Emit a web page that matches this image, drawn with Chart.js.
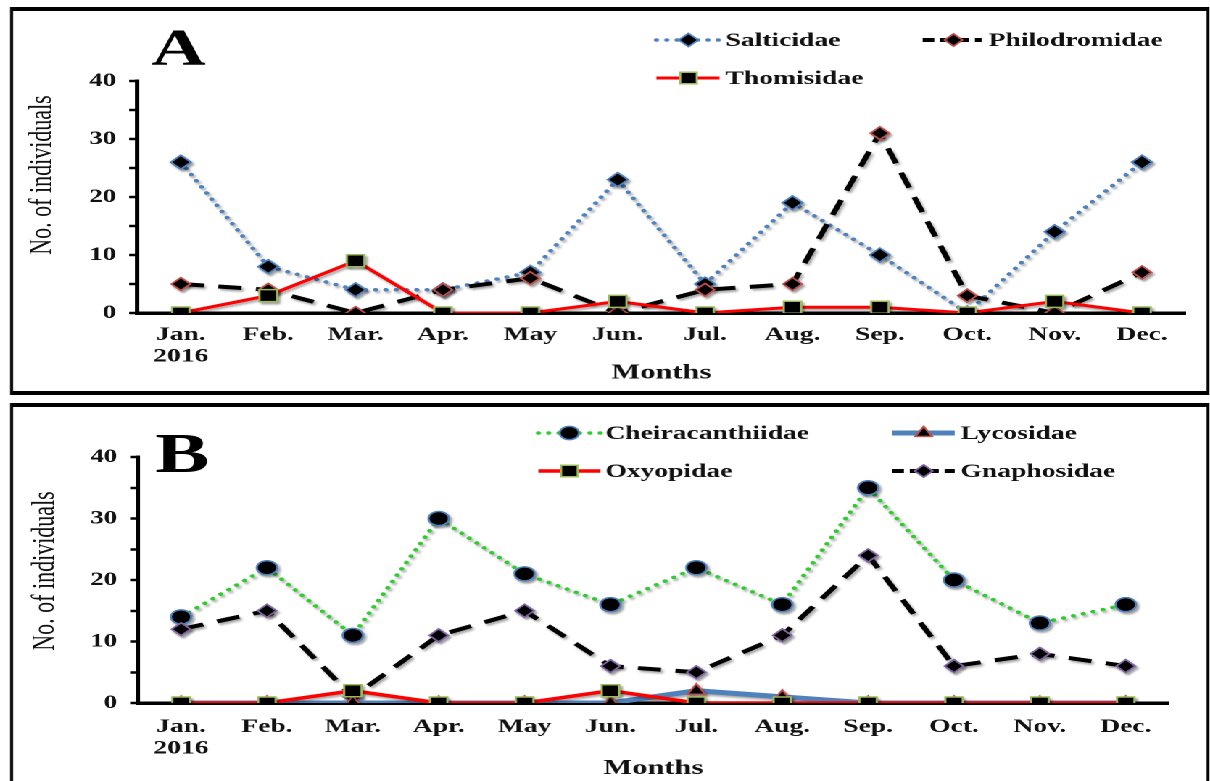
<!DOCTYPE html>
<html>
<head>
<meta charset="utf-8">
<script src="https://cdn.jsdelivr.net/npm/chart.js@4.4.1/dist/chart.umd.min.js"></script>
<style>
  html, body { margin:0; padding:0; background:#fff; width:1210px; height:781px; overflow:hidden; }
  #stage { position:absolute; left:0; top:0; width:834.48px; height:781px; transform:scaleX(1.45); transform-origin:0 0; }
  .box { position:absolute; box-sizing:border-box; border-style:solid; border-color:#000; border-width:4px 2.8px; }
  .wrap { position:absolute; left:0; width:834.48px; }
</style>
</head>
<body>
<div id="stage">
  <div class="box" style="left:6.9px; top:7px; width:827px; height:388px;"></div>
  <div class="box" style="left:6.9px; top:403px; width:827px; height:400px;"></div>
  <div class="wrap" style="top:0; height:398px;"><canvas id="chartA"></canvas></div>
  <div class="wrap" style="top:398px; height:383px;"><canvas id="chartB"></canvas></div>
</div>
<script>
// ---------- data ----------
const months = ['Jan.','Feb.','Mar.','Apr.','May','Jun.','Jul.','Aug.','Sep.','Oct.','Nov.','Dec.'];
const yearLabel = '2016';
const yTickLabels = [0, 10, 20, 30, 40];
const xTitle = 'Months';
const yTitle = 'No. of individuals';

// Panel A
const salticidae    = [26, 8, 4, 4, 7, 23, 5, 19, 10, 0, 14, 26];
const philodromidae = [5, 4, 0, 4, 6, 0, 4, 5, 31, 3, 0, 7];
const thomisidae    = [0, 3, 9, 0, 0, 2, 0, 1, 1, 0, 2, 0];

// Panel B
const cheiracanthiidae = [14, 22, 11, 30, 21, 16, 22, 16, 35, 20, 13, 16];
const lycosidae        = [0, 0, 0, 0, 0, 0, 2, 1, 0, 0, 0, 0];
const oxyopidae        = [0, 0, 2, 0, 0, 2, 0, 0, 0, 0, 0, 0];
const gnaphosidae      = [12, 15, 1, 11, 15, 6, 5, 11, 24, 6, 8, 6];

const xLabels = months.map((m, i) => i === 0 ? [m, yearLabel] : m);

// ---------- styles ----------
const FONT = "'Liberation Serif', 'Times New Roman', serif";
const BLUE = '#4F81BD', RED = '#FF0000', GREEN_B = '#9BBB59', BROWN = '#C0504D', PURPLE = '#8064A2', LGREEN = '#2ECC2E';

function dotted(label, data, color, pStyle, pBorder, order) {
  return { label, data, borderColor: color, borderWidth: 3.5, borderDash: [0.1, 7], borderCapStyle: 'round',
    pointStyle: pStyle, pointRadius: 7, pointBackgroundColor: '#000', pointBorderColor: pBorder, pointBorderWidth: 1.5,
    tension: 0, order };
}
function dashed(label, data, pBorder, order) {
  return { label, data, borderColor: '#000', borderWidth: 4, borderDash: [16, 10], borderCapStyle: 'butt',
    pointStyle: 'rectRot', pointRadius: 6.5, pointBackgroundColor: '#000', pointBorderColor: pBorder, pointBorderWidth: 1.5,
    tension: 0, order };
}
function solid(label, data, color, width, pStyle, pBorder, radius, order) {
  return { label, data, borderColor: color, borderWidth: width, borderDash: [],
    pointStyle: pStyle, pointRadius: radius, pointBackgroundColor: '#000', pointBorderColor: pBorder, pointBorderWidth: 1.5,
    tension: 0, order };
}

function drawMarker(ctx, style, x, y, r, fill, stroke, bw) {
  ctx.save();
  ctx.setLineDash([]);
  ctx.fillStyle = fill; ctx.strokeStyle = stroke; ctx.lineWidth = bw;
  ctx.beginPath();
  if (style === 'circle') ctx.arc(x, y, r, 0, Math.PI * 2);
  else if (style === 'rect') { const s = r * Math.SQRT1_2; ctx.rect(x - s, y - s, 2 * s, 2 * s); }
  else if (style === 'rectRot') { ctx.moveTo(x, y - r); ctx.lineTo(x + r, y); ctx.lineTo(x, y + r); ctx.lineTo(x - r, y); ctx.closePath(); }
  else if (style === 'triangle') {
    ctx.moveTo(x, y - r);
    ctx.lineTo(x + r * Math.sin(2 * Math.PI / 3), y - r * Math.cos(2 * Math.PI / 3));
    ctx.lineTo(x - r * Math.sin(2 * Math.PI / 3), y - r * Math.cos(2 * Math.PI / 3));
    ctx.closePath();
  }
  ctx.fill(); if (bw) ctx.stroke();
  ctx.restore();
}

const shadowPlugin = {
  id: 'shadow',
  beforeDatasetDraw(chart) {
    const ctx = chart.ctx; ctx.save();
    ctx.shadowColor = 'rgba(0,0,0,0.35)'; ctx.shadowBlur = 4; ctx.shadowOffsetX = 3; ctx.shadowOffsetY = 4;
  },
  afterDatasetDraw(chart) { chart.ctx.restore(); }
};

const decorPlugin = {
  id: 'decor',
  afterDraw(chart, args, opts) {
    const ctx = chart.ctx;
    ctx.save();
    ctx.fillStyle = '#000';
    ctx.font = 'bold ' + opts.letterSize + 'px ' + FONT;
    ctx.textAlign = 'center'; ctx.textBaseline = 'alphabetic';
    ctx.fillText(opts.letter, opts.letterX, opts.letterY);
    // y axis title (off-centre, as in the original figure)
    ctx.save();
    ctx.translate(opts.yTitleX, opts.yTitleY);
    ctx.rotate(-Math.PI / 2);
    ctx.fillStyle = '#111';
    ctx.font = '22px ' + FONT;
    ctx.textAlign = 'center'; ctx.textBaseline = 'middle';
    ctx.fillText(yTitle, 0, 0);
    ctx.restore();
    opts.items.forEach(it => {
      const ds = chart.data.datasets[it.index];
      ctx.save();
      ctx.strokeStyle = ds.borderColor; ctx.lineWidth = ds.borderWidth;
      ctx.setLineDash(ds.borderDash && ds.borderDash[0] > 1 ? [8, 4] : (ds.borderDash || []));
      ctx.lineCap = ds.borderCapStyle || 'butt';
      ctx.beginPath(); ctx.moveTo(it.x1, it.y); ctx.lineTo(it.x2, it.y); ctx.stroke();
      ctx.restore();
      drawMarker(ctx, ds.pointStyle, it.m, it.y, ds.pointRadius * 0.95, ds.pointBackgroundColor, ds.pointBorderColor, ds.pointBorderWidth);
      ctx.fillStyle = '#111';
      ctx.font = 'bold 19px ' + FONT;
      ctx.textAlign = 'left'; ctx.textBaseline = 'middle';
      ctx.fillText(ds.label, it.t, it.y + 1);
    });
    ctx.restore();
  }
};

function makeChart(id, datasets, c) {
  return new Chart(document.getElementById(id), {
    type: 'line',
    data: { labels: xLabels, datasets },
    options: {
      responsive: true, maintainAspectRatio: false, animation: false, devicePixelRatio: 2,
      layout: { padding: { left: c.padLeft, right: c.padRight, top: c.padTop, bottom: c.padBottom } },
      plugins: { legend: { display: false }, tooltip: { enabled: false }, decor: c.decor },
      scales: {
        x: {
          type: 'category', offset: true,
          grid: { display: false, drawTicks: false },
          border: { display: true, color: '#000', width: 3.5 },
          ticks: { color: '#111', font: { family: FONT, size: 19, weight: 'bold', lineHeight: 1.15 }, padding: c.xTickPad, autoSkip: false, maxRotation: 0 },
          title: { display: true, text: xTitle, color: '#111', font: { family: FONT, size: 21, weight: 'bold' }, padding: { top: 0, bottom: c.xTitlePad } },
          afterFit: s => { s.height = c.xHeight; }
        },
        y: {
          min: 0, max: 40,
          grid: { display: true, drawOnChartArea: false, drawTicks: true, tickLength: 5.5, tickColor: '#000', tickWidth: 2.5, color: '#000' },
          border: { display: true, color: '#000', width: 3 },
          ticks: { stepSize: 5, color: '#111', font: { family: FONT, size: 18.5, weight: 'bold' }, padding: 9,
                   callback: v => yTickLabels.includes(v) ? String(v) : '' },
          title: { display: false },
          afterFit: s => { s.width = c.yWidth; }
        }
      }
    },
    plugins: [shadowPlugin, decorPlugin]
  });
}

makeChart('chartA', [
  dotted('Salticidae', salticidae, BLUE, 'rectRot', BLUE, 3),
  dashed('Philodromidae', philodromidae, BROWN, 2),
  solid('Thomisidae', thomisidae, RED, 3, 'rect', GREEN_B, 8.5, 1)
], {
  padLeft: 6, padRight: 17.3, padTop: 81, padBottom: 10.4, yWidth: 88.5, xHeight: 74.6,
  xTickPad: 11, xTitlePad: 2,
  decor: {
    letter: 'A', letterSize: 52, letterX: 123, letterY: 65,
    yTitleX: 29, yTitleY: 175,
    items: [
      { index: 0, x1: 452.4, x2: 495.9, m: 474.5, t: 500, y: 40 },
      { index: 1, x1: 635.9, x2: 676.6, m: 657.2, t: 681.4, y: 40 },
      { index: 2, x1: 452.4, x2: 495.9, m: 474.5, t: 500, y: 78 }
    ]
  }
});

makeChart('chartB', [
  dotted('Cheiracanthiidae', cheiracanthiidae, LGREEN, 'circle', BLUE, 4),
  solid('Lycosidae', lycosidae, BLUE, 5, 'triangle', BROWN, 7, 2),
  solid('Oxyopidae', oxyopidae, RED, 3.5, 'rect', GREEN_B, 8.5, 1),
  dashed('Gnaphosidae', gnaphosidae, PURPLE, 3)
], {
  padLeft: 6, padRight: 29, padTop: 59, padBottom: 0, yWidth: 89.2, xHeight: 78,
  xTickPad: 13, xTitlePad: 0,
  decor: {
    letter: 'B', letterSize: 56, letterX: 125.5, letterY: 74,
    yTitleX: 31, yTitleY: 173,
    items: [
      { index: 0, x1: 371, x2: 413.8, m: 392.4, t: 417.2, y: 35 },
      { index: 1, x1: 615, x2: 658, m: 636.6, t: 662, y: 35 },
      { index: 2, x1: 371, x2: 413.8, m: 392.4, t: 417.2, y: 73 },
      { index: 3, x1: 615, x2: 658, m: 636.6, t: 662, y: 73 }
    ]
  }
});
</script>
</body>
</html>
